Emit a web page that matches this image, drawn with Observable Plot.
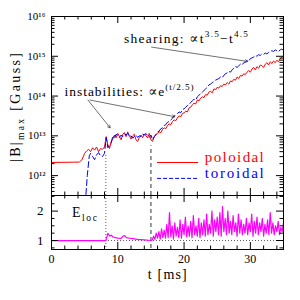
<!DOCTYPE html>
<html><head><meta charset="utf-8">
<script src="https://cdn.jsdelivr.net/npm/d3@7"></script>
<script src="https://cdn.jsdelivr.net/npm/@observablehq/plot@0.6"></script>
<style>
body{margin:0;background:#fff}
#wrap{position:relative;width:300px;height:300px;overflow:hidden;background:#fff}
#wrap svg{display:block}
</style></head>
<body><div id="wrap"></div>
<script>
// ---- data ----
// poloidal |B|max, log10(Gauss)
const poloidalT = [0,4.2,4.6,5.0,5.3,5.6,5.9,6.2,6.5,6.8,7.1,7.4,7.7,8.0,
 8.25,8.5,8.75,9,9.25,9.5,9.75,10,10.25,10.5,10.75,11,11.25,11.5,11.75,12,
 12.25,12.5,12.75,13,13.25,13.5,13.75,14,14.25,14.5,14.75,15,15.25,15.5,15.75,16,
 16.25,16.5,16.75,17,17.25,17.5,17.75,18,18.25,18.5,18.75,19,19.25,19.5,19.75,20,
 20.25,20.5,20.75,21,21.25,21.5,21.75,22,22.25,22.5,22.75,23,23.25,23.5,23.75,24,
 24.25,24.5,24.75,25,25.25,25.5,25.75,26,26.25,26.5,26.75,27,27.25,27.5,27.75,28,
 28.25,28.5,28.75,29,29.25,29.5,29.75,30,30.25,30.5,30.75,31,31.25,31.5,31.75,32,
 32.25,32.5,32.75,33,33.25,33.5,33.75,34,34.25,34.5,34.75,35];
const poloidalLogB = [12.33,12.34,12.4,12.56,12.62,12.66,12.6,12.7,12.64,12.72,12.6,12.68,12.66,12.72,
 12.98,12.78,12.68,12.85, 12.92,13.02,12.95,13.06, 12.98,12.9,13.04,13.08, 12.98,13.1,13.0,12.92,
 13.0,13.04,12.9,12.86, 12.96,13.02,12.95,13.05, 13.0,12.95,13.06,12.9, 12.86,12.98,13.02,13.06,
 13.1,13.08,13.16,13.2, 13.18,13.26,13.3,13.28, 13.36,13.4,13.38,13.45, 13.5,13.48,13.56,13.58,
 13.62,13.6,13.7,13.72, 13.78,13.82,13.8,13.9, 13.88,13.95,13.98,13.96, 14.04,14.02,14.1,14.12,
 14.08,14.18,14.16,14.22, 14.2,14.26,14.24,14.3, 14.28,14.34,14.3,14.38, 14.36,14.42,14.4,14.48,
 14.44,14.52,14.5,14.56, 14.54,14.6,14.64,14.6, 14.68,14.72,14.66,14.74, 14.7,14.78,14.76,14.72,
 14.8,14.84,14.78,14.86, 14.82,14.88,14.84,14.9, 14.86,14.94,14.98,15.0];
// toroidal |B|max, log10(Gauss)
const toroidalT = [5.1,5.4,5.7,5.9,6.2,6.5,6.8,7.1,7.4,7.7,8.0,
 8.25,8.5,8.75,9,9.25,9.5,9.75,10,10.25,10.5,10.75,11,11.25,11.5,11.75,12,
 12.25,12.5,12.75,13,13.25,13.5,13.75,14,14.25,14.5,14.75,15,15.25,15.5,15.75,16,
 16.25,16.5,16.75,17,17.25,17.5,17.75,18,18.25,18.5,18.75,19,19.25,19.5,19.75,20,
 20.25,20.5,20.75,21,21.25,21.5,21.75,22,22.25,22.5,22.75,23,23.25,23.5,23.75,24,
 24.25,24.5,24.75,25,25.25,25.5,25.75,26,26.25,26.5,26.75,27,27.25,27.5,27.75,28,
 28.25,28.5,28.75,29,29.25,29.5,29.75,30,30.25,30.5,30.75,31,31.25,31.5,31.75,32,
 32.25,32.5,32.75,33,33.25,33.5,33.75,34,34.25,34.5,34.75,35];
const toroidalLogB = [11.3,12.0,12.5,12.56,12.48,12.4,12.52,12.58,12.5,12.48,12.56,
 12.96,12.7,12.75,12.82, 13.0,12.96,13.04,13.0, 12.96,13.02,12.98,13.05, 13.02,13.06,12.98,13.0,
 12.94,12.98,13.02,12.96, 13.0,12.98,13.04,13.02, 13.06,13.0,12.96,13.02, 12.9,12.98,13.04,13.1,
 13.12,13.18,13.2,13.26, 13.28,13.34,13.36,13.4, 13.44,13.5,13.52,13.56, 13.6,13.58,13.66,13.68,
 13.72,13.76,13.78,13.84, 13.88,13.92,13.9,13.98, 14.02,14.06,14.1,14.14, 14.18,14.22,14.28,14.3,
 14.34,14.36,14.4,14.42, 14.44,14.48,14.46,14.52, 14.56,14.58,14.62,14.6, 14.66,14.7,14.74,14.72,
 14.76,14.8,14.78,14.84, 14.86,14.9,14.88,14.94, 14.96,14.98,15.02,15.0, 15.04,15.02,15.06,15.05,
 15.08,15.06,15.1,15.12, 15.14,15.12,15.16,15.14, 15.12,15.16,15.18,15.15];
// E_loc
const elocT = [0,8.2,8.5,8.8,9.0,9.3,9.6,10.0,10.5,10.8,11.0,11.3,12,13,14,15,
 15.2,15.4,15.6,15.8,16.0,16.2,16.4,16.6,16.8,17.0,
 17.2,17.4,17.6,17.8,18.0,18.2,18.4,18.6,18.8,19.0,
 19.2,19.4,19.6,19.8,20.0,20.2,20.4,20.6,20.8,21.0,
 21.2,21.4,21.6,21.8,22.0,22.2,22.4,22.6,22.8,23.0,
 23.2,23.4,23.6,23.8,24.0,24.2,24.4,24.6,24.8,25.0,
 25.2,25.4,25.6,25.8,26.0,26.2,26.4,26.6,26.8,27.0,
 27.2,27.4,27.6,27.8,28.0,28.2,28.4,28.6,28.8,29.0,
 29.2,29.4,29.6,29.8,30.0,30.2,30.4,30.6,30.8,31.0,
 31.2,31.4,31.6,31.8,32.0,32.2,32.4,32.6,32.8,33.0,
 33.2,33.4,33.6,33.8,34.0,34.2,34.4,34.6,34.8,35.0];
const elocV = [1,1,1.24,1.15,1.18,1.12,1.1,1.08,1.07,1.15,1.17,1.1,1.07,1.04,1.02,1.0,
 1.02,1.15,1.04,1.25,1.08,1.3,1.05,1.4,1.1,1.35,
 1.08,1.55,1.1,1.95,1.12,1.5,1.05,1.6,1.15,1.45,
 1.1,1.7,1.08,1.55,1.2,1.8,1.12,1.5,1.15,1.65,
 1.1,1.85,1.2,1.5,1.15,1.75,1.1,1.6,1.2,1.7,
 1.15,1.9,1.2,1.55,1.25,2.0,1.15,1.7,1.3,1.8,
 1.2,1.95,1.15,2.15,1.3,1.75,1.2,2.0,1.25,1.65,
 1.2,1.85,1.3,1.6,1.15,1.9,1.25,1.7,1.2,1.55,
 1.25,1.75,1.2,1.6,1.3,1.9,1.15,1.65,1.25,1.8,
 1.2,1.6,1.3,1.75,1.15,1.55,1.25,1.7,1.2,1.95,
 1.25,1.6,1.2,1.5,1.3,1.65,1.2,1.45,1.3,1.6];
// markers
const dottedLineT = 8.2, dottedTopLogB = 12.53;
const dashedLineT = 15.0, dashedTopLogB = 12.75;
// annotation arrows [t1, logB1, t2, logB2]
const arrowsData = [[5.5,13.9,8.85,13.2],[5.8,13.9,18.6,13.48],[15.1,15.23,29.6,14.87]];
// legend [label, t1, t2, logB, textT]
const legendItems = [["poloidal",16,22.2,12.33,23.2],["toroidal",16,22.2,11.93,23.2]];
// ticks
const xMajor = [0,10,20,30], xMinor = [2,4,6,8,12,14,16,18,22,24,26,28,32,34];
const yMajorExp = [12,13,14,15,16];
const yMinorMult = [2,3,4,5,6,7,8,9];
const eMajor = [1,2], eMinor = [0.75,1.25,1.5,1.75,2.25,2.5];

// ---- build ----
const red = "#ff0000", blue = "#0000ff", mag = "#ff00ff";
const font = "'Liberation Serif', 'DejaVu Serif', serif";
const pol = poloidalT.map((t,i)=>({t, B: 10**poloidalLogB[i]}));
const tor = toroidalT.map((t,i)=>({t, B: 10**toroidalLogB[i]}));
const eloc = elocT.map((t,i)=>({t, v: elocV[i]}));
const yMajor = yMajorExp.map(e=>10**e);
const yMinor = [];
for (let e=11; e<16; e++) for (const m of yMinorMult) { const v=m*10**e; if (v>=10**11.5 && v<=1e16) yMinor.push(v); }
const supMap = {"0":"⁰","1":"¹","2":"²","3":"³","4":"⁴","5":"⁵","6":"⁶","7":"⁷","8":"⁸","9":"⁹"};
const W = 300, ML = 51, MR = 17;
const FW = W-ML-MR;
const H1 = 195, MT1 = 16, FH1 = H1-MT1;
const H2 = 105, MB2 = 51, FH2 = H2-MB2;

const topPlot = Plot.plot({
  width: W, height: H1, marginTop: MT1, marginBottom: 0, marginLeft: ML, marginRight: MR,
  style: {fontFamily: font, background: "white", overflow: "visible", color: "black"},
  x: {domain: [0,35], axis: null},
  y: {type: "log", domain: [10**11.5, 1e16], axis: null},
  marks: [
    Plot.ruleX([dottedLineT], {y1: 10**11.5, y2: 10**dottedTopLogB, stroke: "#333", strokeDasharray: "1,2", strokeWidth: 0.8}),
    Plot.ruleX([dashedLineT], {y1: 10**11.5, y2: 10**dashedTopLogB, stroke: "#555", strokeDasharray: "4,3", strokeWidth: 1.2}),
    Plot.line(pol, {x: "t", y: "B", stroke: red, strokeWidth: 1, clip: true}),
    Plot.line(tor, {x: "t", y: "B", stroke: blue, strokeWidth: 1, strokeDasharray: "6,3", clip: true}),
    Plot.arrow(arrowsData, {x1: d=>d[0], y1: d=>10**d[1], x2: d=>d[2], y2: d=>10**d[3], stroke: "#333", strokeWidth: 0.7, headLength: 6}),
    Plot.ruleY(legendItems.slice(0,1), {y: d=>10**d[3], x1: d=>d[1], x2: d=>d[2], stroke: red, strokeWidth: 1}),
    Plot.ruleY(legendItems.slice(1), {y: d=>10**d[3], x1: d=>d[1], x2: d=>d[2], stroke: blue, strokeWidth: 1, strokeDasharray: "4,2"}),
    // ticks
    Plot.ruleX(xMajor, {insetTop: FH1-7, stroke: "black"}),
    Plot.ruleX(xMinor, {insetTop: FH1-3.5, stroke: "black"}),
    Plot.ruleX(xMajor, {insetBottom: FH1-7, stroke: "black"}),
    Plot.ruleX(xMinor, {insetBottom: FH1-3.5, stroke: "black"}),
    Plot.ruleY(yMajor, {insetRight: FW-7, stroke: "black"}),
    Plot.ruleY(yMinor, {insetRight: FW-3.5, stroke: "black"}),
    Plot.ruleY(yMajor, {insetLeft: FW-7, stroke: "black"}),
    Plot.ruleY(yMinor, {insetLeft: FW-3.5, stroke: "black"}),
    Plot.axisY(yMajor, {anchor: "left", tickSize: 0, tickPadding: 6, fontSize: 11, label: null,
      tickFormat: d => "10" + String(Math.round(Math.log10(d))).split("").map(c=>supMap[c]).join("")}),
    Plot.frame({stroke: "black", strokeWidth: 1})
  ]
});

const botPlot = Plot.plot({
  width: W, height: H2, marginTop: 0, marginBottom: MB2, marginLeft: ML, marginRight: MR,
  style: {fontFamily: font, background: "white", overflow: "visible", color: "black"},
  x: {domain: [0,35], axis: null},
  y: {domain: [0.695, 2.53], axis: null},
  marks: [
    Plot.ruleY([1], {stroke: "#333", strokeDasharray: "1,2", strokeWidth: 0.8}),
    Plot.ruleX([dottedLineT], {stroke: "#333", strokeDasharray: "1,2", strokeWidth: 0.8}),
    Plot.ruleX([dashedLineT], {stroke: "#555", strokeDasharray: "4,3", strokeWidth: 1.2}),
    Plot.line(eloc, {x: "t", y: "v", stroke: mag, strokeWidth: 1.2}),
    Plot.ruleX(xMajor, {insetTop: FH2-7, stroke: "black"}),
    Plot.ruleX(xMinor, {insetTop: FH2-3.5, stroke: "black"}),
    Plot.ruleX(xMajor, {insetBottom: FH2-7, stroke: "black"}),
    Plot.ruleX(xMinor, {insetBottom: FH2-3.5, stroke: "black"}),
    Plot.ruleY(eMajor, {insetRight: FW-7, stroke: "black"}),
    Plot.ruleY(eMinor, {insetRight: FW-3.5, stroke: "black"}),
    Plot.ruleY(eMajor, {insetLeft: FW-7, stroke: "black"}),
    Plot.ruleY(eMinor, {insetLeft: FW-3.5, stroke: "black"}),
    Plot.axisY(eMajor, {anchor: "left", tickSize: 0, tickPadding: 8, fontSize: 13, label: null}),
    Plot.axisX(xMajor, {anchor: "bottom", tickSize: 0, tickPadding: 5, fontSize: 12, label: null}),
    Plot.frame({stroke: "black", strokeWidth: 1})
  ]
});

const wrap = document.getElementById("wrap");
wrap.appendChild(topPlot);
wrap.appendChild(botPlot);

// rich text labels (sub/superscripts) placed through the plots' scales
function rich(svg, x, y, parts, size, {rotate, len, anchor = "start", fill = "black"} = {}) {
  const t = d3.select(svg).append("text")
    .attr("font-family", font).attr("font-size", size).attr("fill", fill)
    .attr("text-anchor", anchor).attr("x", x).attr("y", y);
  if (rotate) t.attr("transform", `rotate(${rotate},${x},${y})`);
  if (len) t.attr("textLength", len).attr("lengthAdjust", "spacing");
  for (const p of parts) {
    const s = t.append("tspan").text(p.t);
    if (p.sup) s.attr("font-size", size*0.68).attr("dy", p.dy ?? -size*0.4);
    else if (p.sub) s.attr("font-size", size*0.68).attr("dy", p.dy ?? size*0.3);
    else if (p.dy) s.attr("dy", p.dy);
  }
  return t;
}
const tx = topPlot.scale("x"), ty = topPlot.scale("y");
rich(topPlot, tx.apply(2.05), ty.apply(10**14.0), [{t:"instabilities: ∝e"},{t:"(t/2.5)", sup:true}], 13.5, {len: 129});
rich(topPlot, tx.apply(11.0), ty.apply(10**15.33), [{t:"shearing: ∝t"},{t:"3.5", sup:true},{t:"−t", dy: 13.5*0.4},{t:"4.5", sup:true}], 13.5, {len: 124});
for (const [i, d] of legendItems.entries())
  rich(topPlot, tx.apply(d[4]), ty.apply(10**d[3]), [{t: d[0]}], 15, {len: 59, fill: i === 0 ? red : blue});
rich(topPlot, 20, 162, [{t:"|B|"},{t:"max", sub:true},{t:" [Gauss]", dy:-14*0.3}], 14, {rotate: -90, len: 109});
const bx = botPlot.scale("x"), by = botPlot.scale("y");
rich(botPlot, bx.apply(3.15), 22, [{t:"E"},{t:"loc", sub:true}], 14, {len: 25});
rich(botPlot, bx.apply(14.6), 83.5, [{t:"t [ms]"}], 14, {len: 39});
</script></body></html>
